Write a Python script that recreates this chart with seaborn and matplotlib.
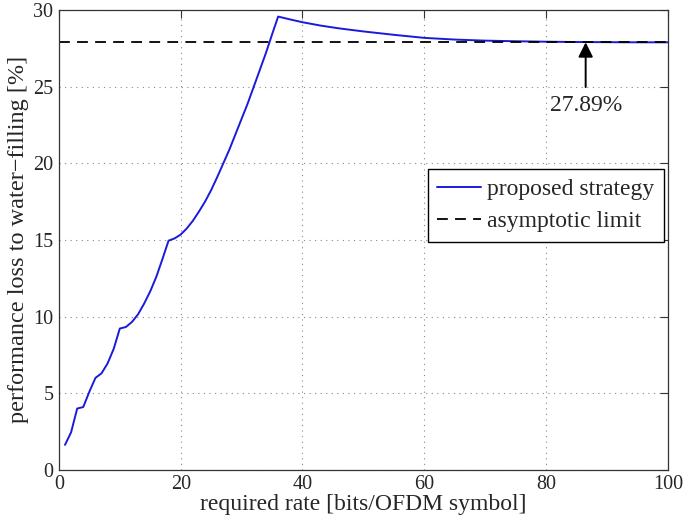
import numpy as np
import pandas as pd
import matplotlib
matplotlib.use("Agg")
import matplotlib.pyplot as plt
import seaborn as sns

# data
rate = [1, 2, 3, 4, 5, 6, 7, 8, 9, 10, 11, 12, 13, 14, 15, 16, 17, 18,
        19, 20, 21, 22, 23, 24, 25, 26, 27, 28, 29, 30, 31, 32, 33, 34, 35, 36,
        38, 40, 43, 46, 50, 55, 60, 65, 70, 75, 80, 85, 90, 95, 100]
loss = [1.63, 2.45, 4.0, 4.1, 5.1, 6.0, 6.3, 6.95, 7.9, 9.22, 9.32, 9.65, 10.15, 10.85, 11.65, 12.6, 13.75, 14.95,
        15.1, 15.35, 15.75, 16.25, 16.85, 17.5, 18.25, 19.1, 20.0, 20.9, 21.9, 22.9, 23.9, 25.0, 26.1, 27.2, 28.4, 29.57,
        29.38, 29.2, 28.98, 28.8, 28.6, 28.38, 28.18, 28.07, 28.0, 27.96, 27.93, 27.91, 27.9, 27.89, 27.89]
limit = 27.89
annot_x = 86.5
annot_text_y = 23.8

df = pd.DataFrame({"rate": rate, "loss": loss})

sns.set_style("white")
plt.rcParams["font.family"] = ["Liberation Serif", "DejaVu Serif"]

fig = plt.figure(figsize=(6.85, 5.25), dpi=100)
ax = fig.add_axes([0.086, 0.105, 0.889, 0.876])

sns.lineplot(data=df, x="rate", y="loss", ax=ax, color=(0.1, 0.1, 0.86), lw=1.4,
             label="proposed strategy")
ax.axhline(limit, color="k", lw=1.3, ls=(0, (6, 4)), label="asymptotic limit")

ax.annotate(f"{limit:.2f}%", xy=(annot_x, limit), xytext=(annot_x, annot_text_y),
            ha="center", va="center", fontsize=17,
            arrowprops=dict(arrowstyle="-|>", color="k", lw=1.4,
                            mutation_scale=22, shrinkA=3, shrinkB=0))

ax.set_xlim(0, 100)
ax.set_ylim(0, 30)
ax.set_xticks(range(0, 101, 20))
ax.set_yticks(range(0, 31, 5))
ax.grid(True, ls=(0, (1, 4)), color="#888888", lw=0.8)
ax.tick_params(direction="in", length=6, labelsize=14.5, top=True, right=True,
               color="#333333", pad=4)
for s in ax.spines.values():
    s.set_color("#333333")
    s.set_linewidth(0.9)

ax.set_xlabel("required rate [bits/OFDM symbol]", fontsize=17, labelpad=0)
ax.set_ylabel("performance loss to water\u2212filling [%]", fontsize=17.5, labelpad=3)

ax.legend(loc="upper right", bbox_to_anchor=(0.993, 0.654), fontsize=17,
          frameon=True, fancybox=False, edgecolor="k", framealpha=1,
          handlelength=1.85, handletextpad=0.25, borderpad=0.4, labelspacing=0.45,
          borderaxespad=0)

fig.savefig("out.png", dpi=100)
